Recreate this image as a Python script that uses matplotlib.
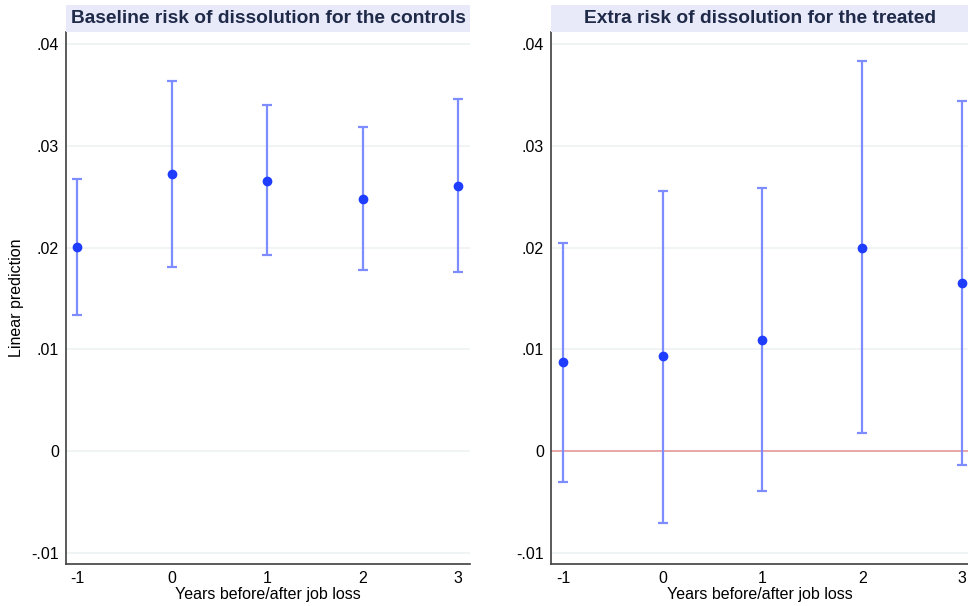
import matplotlib
matplotlib.use("Agg")
import matplotlib.pyplot as plt
from matplotlib.patches import Rectangle

plt.rcParams['font.family'] = ['Liberation Sans', 'DejaVu Sans']

years = [-1, 0, 1, 2, 3]
ytick_vals = [-0.01, 0, 0.01, 0.02, 0.03, 0.04]
ytick_labels = ['-.01', '0', '.01', '.02', '.03', '.04']

ctrl_est = [0.0201, 0.0272, 0.0266, 0.0248, 0.0261]
ctrl_lo = [0.0134, 0.0181, 0.0193, 0.0178, 0.0176]
ctrl_hi = [0.0267, 0.0364, 0.0340, 0.0319, 0.0346]

trt_est = [0.0088, 0.0093, 0.0109, 0.0200, 0.0165]
trt_lo = [-0.0030, -0.0071, -0.0039, 0.0018, -0.0014]
trt_hi = [0.0205, 0.0256, 0.0259, 0.0383, 0.0344]

titles = ['Baseline risk of dissolution for the controls',
          'Extra risk of dissolution for the treated']

W, H = 968, 606
fig = plt.figure(figsize=(W / 100, H / 100), dpi=100)

def fx(px):
    return px / W

def fy(py):
    return 1 - py / H

panels = [
    dict(x0=66, x1=470, xlim=(-1.115, 3.126), est=ctrl_est, lo=ctrl_lo, hi=ctrl_hi, zero=False),
    dict(x0=551, x1=968, xlim=(-1.12, 3.06), est=trt_est, lo=trt_lo, hi=trt_hi, zero=True),
]

pt_color = '#1f3dff'
ci_color = '#7d8cff'
y_top, y_bot = 32, 564

for i, p in enumerate(panels):
    ax = fig.add_axes([fx(p['x0']), fy(y_bot), fx(p['x1'] - p['x0']), (y_bot - y_top) / H])
    ax.set_xlim(*p['xlim'])
    ax.set_ylim(-0.0111, 0.0412)
    ax.set_yticks(ytick_vals)
    ax.set_yticklabels(ytick_labels)
    ax.set_xticks(years)
    ax.set_xticklabels([str(y) for y in years])
    ax.grid(axis='y', color='#edf2f3', linewidth=1.2)
    ax.set_axisbelow(True)
    for s in ['top', 'right']:
        ax.spines[s].set_visible(False)
    for s in ['left', 'bottom']:
        ax.spines[s].set_color('#404040')
        ax.spines[s].set_linewidth(1.2)
    ax.tick_params(axis='both', length=0, labelsize=11.5, colors='black', pad=5)
    if p['zero']:
        ax.axhline(0, color='#e8a0a0', linewidth=1.3, zorder=1)
    yerr = [[e - l for e, l in zip(p['est'], p['lo'])],
            [h - e for e, h in zip(p['est'], p['hi'])]]
    ax.errorbar(years, p['est'], yerr=yerr, fmt='none', ecolor=ci_color,
                elinewidth=1.6, capsize=3.5, capthick=1.6, zorder=2)
    ax.plot(years, p['est'], 'o', color=pt_color, markersize=6, zorder=3)
    ax.set_xlabel('Years before/after job loss', fontsize=11.5, labelpad=1)
    # title box
    fig.patches.append(Rectangle((fx(p['x0']), fy(y_top)), fx(p['x1'] - p['x0']), (y_top - 5) / H,
                                 transform=fig.transFigure, facecolor='#e8eafa',
                                 edgecolor='none', zorder=0))
    fig.text(fx((p['x0'] + p['x1']) / 2), fy(18.5), titles[i], ha='center', va='center',
             fontsize=13.8, fontweight='bold', color='#1f2a48')

fig.text(fx(17), fy(298), 'Linear prediction', rotation=90, ha='center', va='center',
         fontsize=11.5)

fig.savefig('out.png', dpi=100)
